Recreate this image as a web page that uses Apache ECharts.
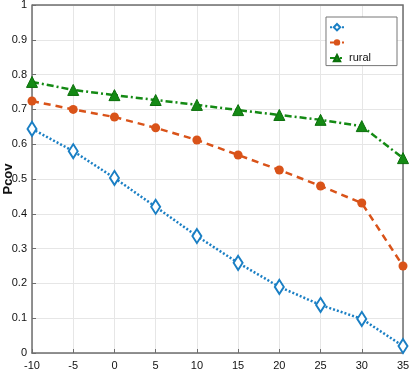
<!DOCTYPE html>
<html>
<head>
<meta charset="utf-8">
<script src="https://cdn.jsdelivr.net/npm/echarts@6/dist/echarts.min.js"></script>
<style>
html,body{margin:0;padding:0;background:#fff;}
#chart{width:409px;height:373px;}
</style>
</head>
<body>
<div id="chart"></div>
<script>
// x values (snr / distance offset)
var xs = [-10, -5, 0, 5, 10, 15, 20, 25, 30, 35];
var yTicks = [0, 0.1, 0.2, 0.3, 0.4, 0.5, 0.6, 0.7, 0.8, 0.9, 1];
var urban = [0.644, 0.58, 0.503, 0.42, 0.336, 0.259, 0.19, 0.138, 0.098, 0.02];
var suburban = [0.724, 0.70, 0.678, 0.647, 0.612, 0.569, 0.526, 0.48, 0.431, 0.25];
var rural = [0.779, 0.756, 0.741, 0.727, 0.713, 0.698, 0.684, 0.67, 0.652, 0.56];

function pairs(arr){
	var out = [];
	for (var i = 0; i < xs.length; i++) out.push([xs[i], arr[i]]);
	return out;
}

var chart = echarts.init(document.getElementById('chart'));
var axisCol = '#6e6e6e';
var option = {
	animation : false,
	grid : { left : 32, right : 6, top : 5, bottom : 20, containLabel : false, outerBoundsMode : 'none' },
	legend : {
		right : 12, top : 17,
		orient : 'vertical',
		backgroundColor : '#fff',
		borderColor : '#777', borderWidth : 1, borderRadius : 0,
		padding : [6, 26, 2, 3],
		itemGap : 7,
		itemWidth : 14, itemHeight : 8,
		textStyle : { fontSize : 11, color : '#111', fontFamily : 'Liberation Sans' },
		formatter : function(name){ return name === 'rural' ? name : ''; },
		data : ['urban', 'suburban', 'rural']
	},
	xAxis : {
		type : 'value', min : -10, max : 35, interval : 5,
		axisLine : { onZero : false, lineStyle : { color : axisCol, width : 1.5 } },
		axisTick : { inside : true, length : 4, lineStyle : { color : axisCol } },
		axisLabel : { color : '#111', fontSize : 11, fontFamily : 'Liberation Sans', margin : 7 },
		splitLine : { show : true, lineStyle : { color : '#e6e6e6' } }
	},
	yAxis : {
		type : 'value', min : 0, max : 1, interval : 0.1,
		name : 'Pcov', nameLocation : 'middle', nameGap : 17, nameRotate : 90,
		nameMoveOverlap : false,
		nameTextStyle : { fontSize : 13, fontWeight : 'bold', color : '#111', fontFamily : 'Liberation Sans' },
		axisLine : { onZero : false, lineStyle : { color : axisCol, width : 1.5 } },
		axisTick : { inside : true, length : 4, lineStyle : { color : axisCol } },
		axisLabel : {
			color : '#111', fontSize : 11, fontFamily : 'Liberation Sans', margin : 5,
			formatter : function(v){ return (Math.round(v * 10) / 10).toString(); }
		},
		splitLine : { show : true, lineStyle : { color : '#e6e6e6' } }
	},
	series : [ {
		name : 'urban', type : 'line', data : pairs(urban),
		symbol : 'emptyDiamond', symbolSize : [9, 14],
		itemStyle : { color : '#1a7fc4', borderWidth : 2 },
		lineStyle : { color : '#1a7fc4', width : 2.5, type : [2, 2] }
	}, {
		name : 'suburban', type : 'line', data : pairs(suburban),
		symbol : 'circle', symbolSize : 9,
		itemStyle : { color : '#d95319' },
		lineStyle : { color : '#d95319', width : 2.5, type : [7, 5] }
	}, {
		name : 'rural', type : 'line', data : pairs(rural),
		symbol : 'triangle', symbolSize : 11,
		itemStyle : { color : '#148a14', borderColor : '#0a6e0a', borderWidth : 1 },
		lineStyle : { color : '#148a14', width : 2.5, type : [7, 3, 2, 3] }
	} ]
};
chart.setOption(option);
// top and right border of the plot box
var gr = chart.getModel().getComponent('grid').coordinateSystem.getRect();
chart.setOption({
	graphic : [ {
		type : 'polyline', silent : true,
		shape : { points : [[gr.x, gr.y], [gr.x + gr.width, gr.y], [gr.x + gr.width, gr.y + gr.height]] },
		style : { stroke : axisCol, lineWidth : 1.5, fill : null }
	} ]
});
</script>
</body>
</html>
